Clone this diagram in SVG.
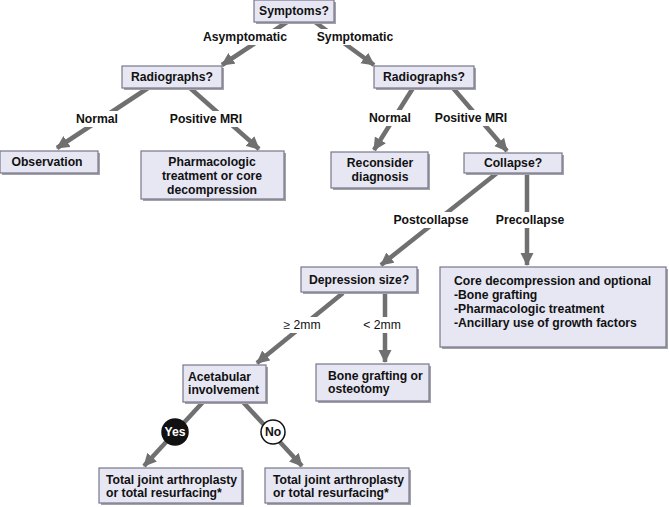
<svg xmlns="http://www.w3.org/2000/svg" width="669" height="507" viewBox="0 0 669 507">
<style>
.box{fill:#e7e7f4;stroke:#77778a;stroke-width:1.2}
.sh{fill:#a2a2a8}
.t{font-family:"Liberation Sans",Arial,sans-serif;font-size:12.2px;font-weight:bold;fill:#111}
.c{text-anchor:middle}
.r{font-weight:normal}
.ln{stroke:#707070;stroke-width:4.5;fill:none;marker-end:url(#ah)}
.lb{fill:#fff}
</style>
<defs>
<marker id="ah" markerUnits="userSpaceOnUse" markerWidth="14" markerHeight="14" viewBox="0 0 14 14" refX="12" refY="7" orient="auto">
<path d="M0,0.5 L13,7 L0,13.5 Z" fill="#707070"/>
</marker>
</defs>
<rect width="669" height="507" fill="#fff"/>
<g id="connectors">
<line class="ln" x1="287" y1="22" x2="222" y2="65"/>
<line class="ln" x1="315" y1="22" x2="374" y2="65"/>
<line class="ln" x1="148" y1="88" x2="57" y2="148"/>
<line class="ln" x1="190" y1="88" x2="259" y2="149"/>
<line class="ln" x1="413" y1="88" x2="374" y2="150"/>
<line class="ln" x1="453" y1="88" x2="507" y2="151"/>
<line class="ln" x1="497" y1="173" x2="381" y2="265"/>
<line class="ln" x1="527" y1="173" x2="527" y2="265"/>
<line class="ln" x1="343" y1="293" x2="257" y2="363"/>
<line class="ln" x1="385" y1="293" x2="385" y2="362"/>
<line class="ln" x1="203" y1="402" x2="144" y2="466"/>
<line class="ln" x1="243" y1="402" x2="302" y2="466"/>
<rect class="lb" x="202" y="29" width="88" height="16"/>
<text class="t c" x="245" y="41">Asymptomatic</text>
<rect class="lb" x="315" y="29" width="80" height="16"/>
<text class="t c" x="355" y="41">Symptomatic</text>
<rect class="lb" x="75" y="111" width="44" height="16"/>
<text class="t c" x="97" y="123">Normal</text>
<rect class="lb" x="168" y="111" width="76" height="16"/>
<text class="t c" x="206" y="123">Positive MRI</text>
<rect class="lb" x="368" y="110" width="44" height="16"/>
<text class="t c" x="390" y="122">Normal</text>
<rect class="lb" x="433" y="110" width="76" height="16"/>
<text class="t c" x="471" y="122">Positive MRI</text>
<rect class="lb" x="392" y="212" width="78" height="16"/>
<text class="t c" x="431" y="224">Postcollapse</text>
<rect class="lb" x="493" y="212" width="74" height="16"/>
<text class="t c" x="530" y="224">Precollapse</text>
<rect class="lb" x="280" y="317" width="44" height="16"/>
<text class="t c r" x="302" y="329">≥ 2mm</text>
<rect class="lb" x="362" y="317" width="42" height="16"/>
<text class="t c r" x="382" y="329">&lt; 2mm</text>
<circle cx="175" cy="432" r="13" fill="#111" stroke="#111" stroke-width="1.5"/>
<text class="t c" x="175" y="436" style="fill:#fff">Yes</text>
<circle cx="273" cy="432" r="12" fill="#fff" stroke="#111" stroke-width="1.5"/>
<text class="t c" x="273" y="436">No</text>
</g>
<g id="symptoms">
<rect class="sh" x="256" y="2" width="80" height="22"/>
<rect class="box" x="254" y="0" width="80" height="22"/>
<text class="t c" x="294" y="15">Symptoms?</text>
</g>
<g id="radiographs-left">
<rect class="sh" x="124" y="68" width="100" height="22"/>
<rect class="box" x="122" y="66" width="100" height="22"/>
<text class="t c" x="172" y="81">Radiographs?</text>
</g>
<g id="radiographs-right">
<rect class="sh" x="376" y="68" width="100" height="22"/>
<rect class="box" x="374" y="66" width="100" height="22"/>
<text class="t c" x="424" y="81">Radiographs?</text>
</g>
<g id="observation">
<rect class="sh" x="2" y="153" width="98" height="22"/>
<rect class="box" x="0" y="151" width="98" height="22"/>
<text class="t c" x="47" y="166">Observation</text>
</g>
<g id="pharmacologic">
<rect class="sh" x="143" y="153" width="143" height="48"/>
<rect class="box" x="141" y="151" width="143" height="48"/>
<text class="t c" x="212" y="166">Pharmacologic</text>
<text class="t c" x="212" y="180">treatment or core</text>
<text class="t c" x="212" y="194">decompression</text>
</g>
<g id="reconsider">
<rect class="sh" x="333" y="154" width="97" height="36"/>
<rect class="box" x="331" y="152" width="97" height="36"/>
<text class="t c" x="380" y="167">Reconsider</text>
<text class="t c" x="380" y="181">diagnosis</text>
</g>
<g id="collapse">
<rect class="sh" x="466" y="155" width="98" height="20"/>
<rect class="box" x="464" y="153" width="98" height="20"/>
<text class="t c" x="513" y="167">Collapse?</text>
</g>
<g id="depression">
<rect class="sh" x="303" y="269" width="116" height="25"/>
<rect class="box" x="301" y="267" width="116" height="25"/>
<text class="t c" x="359" y="284">Depression size?</text>
</g>
<g id="core">
<rect class="sh" x="442" y="269" width="226" height="80"/>
<rect class="box" x="440" y="267" width="226" height="80"/>
<text class="t" x="454" y="285">Core decompression and optional</text>
<text class="t" x="454" y="299">-Bone grafting</text>
<text class="t" x="454" y="313">-Pharmacologic treatment</text>
<text class="t" x="454" y="327">-Ancillary use of growth factors</text>
</g>
<g id="acetabular">
<rect class="sh" x="185" y="367" width="83" height="37"/>
<rect class="box" x="183" y="365" width="83" height="37"/>
<text class="t" x="188" y="381">Acetabular</text>
<text class="t" x="188" y="394">involvement</text>
</g>
<g id="bonegrafting">
<rect class="sh" x="318" y="366" width="113" height="37"/>
<rect class="box" x="316" y="364" width="113" height="37"/>
<text class="t" x="328" y="380">Bone grafting or</text>
<text class="t" x="328" y="393">osteotomy</text>
</g>
<g id="total-left">
<rect class="sh" x="101" y="470" width="143" height="35"/>
<rect class="box" x="99" y="468" width="143" height="35"/>
<text class="t" x="106" y="484">Total joint arthroplasty</text>
<text class="t" x="106" y="497">or total resurfacing*</text>
</g>
<g id="total-right">
<rect class="sh" x="267" y="470" width="144" height="35"/>
<rect class="box" x="265" y="468" width="144" height="35"/>
<text class="t" x="273" y="484">Total joint arthroplasty</text>
<text class="t" x="273" y="497">or total resurfacing*</text>
</g>
</svg>
